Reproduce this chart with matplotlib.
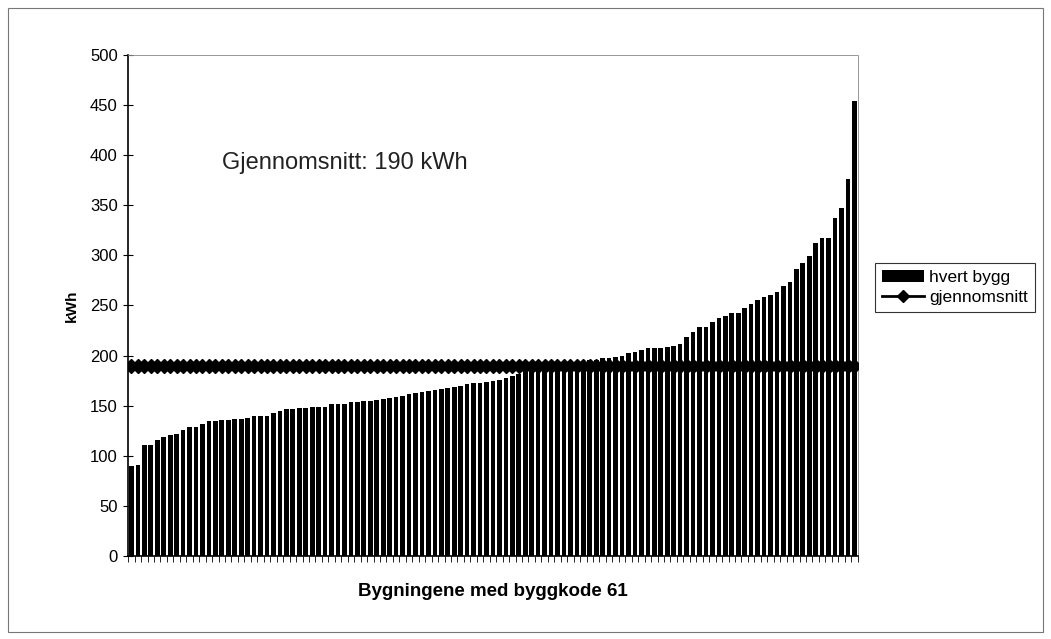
import matplotlib
matplotlib.use("Agg")
import matplotlib.pyplot as plt
import numpy as np
from matplotlib.patches import Rectangle

plt.rcParams['font.family'] = ['Liberation Sans', 'DejaVu Sans']

# energibruk per bygg (kWh), sortert stigende
kwh = [90, 91, 111, 111, 116, 119, 121, 122, 126, 129, 129, 132, 135, 135, 136, 136,
       137, 137, 138, 140, 140, 140, 143, 145, 147, 147, 148, 148, 149, 149, 149, 152,
       152, 152, 154, 154, 155, 155, 156, 157, 158, 159, 160, 162, 163, 164, 165, 166,
       167, 168, 169, 170, 172, 173, 173, 174, 175, 176, 178, 180, 182, 184, 185, 186,
       187, 188, 189, 190, 191, 192, 194, 196, 196, 198, 198, 199, 200, 203, 204, 206,
       208, 208, 208, 209, 210, 212, 219, 223, 228, 228, 233, 237, 239, 242, 242, 247,
       251, 255, 258, 260, 263, 269, 273, 286, 292, 299, 312, 317, 317, 337, 347, 376,
       454]
snitt = 190
yticks = [0, 50, 100, 150, 200, 250, 300, 350, 400, 450, 500]

n = len(kwh)
x = np.arange(n)

fig = plt.figure(figsize=(10.51, 6.39), dpi=100)
ax = fig.add_axes([0.122, 0.130, 0.694, 0.784])

bars = ax.bar(x, kwh, width=0.72, color='black', label='hvert bygg', zorder=2)
line, = ax.plot(x, [snitt] * n, color='black', lw=2, marker='D', markersize=7.5,
                label='gjennomsnitt', zorder=3)

ax.set_xlim(-0.5, n - 0.5)
ax.set_ylim(0, 500)
ax.set_yticks(yticks)
ax.set_xticks(np.arange(n + 1) - 0.5)
ax.set_xticklabels([])
ax.tick_params(axis='x', direction='out', length=4, width=0.6)
ax.tick_params(axis='y', direction='inout', length=7, width=0.8, labelsize=12, pad=4)

for s in ['top', 'right']:
    ax.spines[s].set_color('#888888')
    ax.spines[s].set_linewidth(0.6)
    ax.spines[s].set_linestyle((0, (1, 1)))
ax.spines['left'].set_linewidth(1.2)
ax.spines['bottom'].set_linewidth(1.2)

ax.set_ylabel('kWh', fontsize=11, fontweight='bold', labelpad=8)
ax.set_xlabel('Bygningene med byggkode 61', fontsize=13.5, fontweight='bold', labelpad=12)

ax.text(14, 392, 'Gjennomsnitt: 190 kWh', fontsize=17, va='center', ha='left',
        color='#222222')

leg = ax.legend([bars, line], ['hvert bygg', 'gjennomsnitt'],
                loc='center left', bbox_to_anchor=(0.833, 0.55), bbox_transform=fig.transFigure,
                fontsize=12.5, frameon=True, fancybox=False, edgecolor='black',
                handlelength=2.4, borderpad=0.4, labelspacing=0.3, handletextpad=0.3,
                borderaxespad=0, markerscale=0.8)
leg.get_frame().set_linewidth(0.8)

fig.patches.append(Rectangle((0.008, 0.011), 0.984, 0.977, transform=fig.transFigure,
                             fill=False, edgecolor='#777777', linewidth=0.8))

fig.savefig('out.png', dpi=100)
